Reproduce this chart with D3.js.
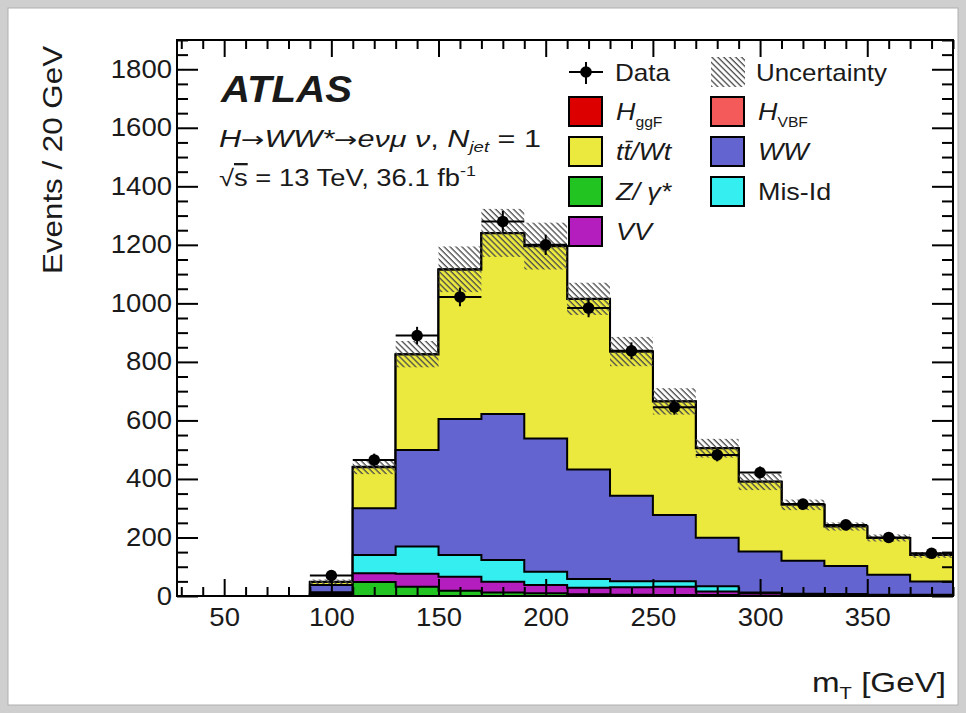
<!DOCTYPE html>
<html><head><meta charset="utf-8">
<script src="https://cdn.jsdelivr.net/npm/d3@7"></script>
<style>
body{margin:0;background:#fff}
svg{display:block}
text{font-family:"Liberation Sans",Arial,Helvetica,sans-serif;fill:#1a1a1a}
</style>
</head><body>
<svg id="chart" width="966" height="713"></svg>
<script>
// ---- data (20 GeV bins, lower edges) ----
const binWidth = 20;
const binLow = [90,110,130,150,170,190,210,230,250,270,290,310,330,350,370];
const dataValues = [70,465,890,1022,1280,1200,984,838,645,482,422,314,243,200,146];
const zGammaValues = [3,48,32,18,12,9,6,4,3,3,1,0.5,0.5,0.3,0.3];
const vvValues     = [5,30,44,48,37,29,22,26,29,12,8,5,4,3,3];
const misIdValues  = [5,62,93,74,74,45,30,20,18,18,3,2,2,1,1];
const wwValues     = [25,160,330,465,499,455,374,293,227,166,140,113,96,68,45];
const topValues    = [10,140,326,510,618,657,583,492,388,306,238,191,135,126,91];
const hVbfValues   = [0,0.5,0.5,0.5,0.3,0.2,0.2,0.1,0,0,0,0,0,0,0];
const hGgfValues   = [0.5,1,1,1,0.5,0.5,0.3,0.2,0,0,0,0,0,0,0];
const uncertaintyValues = [8,25,45,78,82,80,55,50,45,32,28,18,14,12,10];
const xTicksMajor = [50,100,150,200,250,300,350];
const yTicksMajor = [0,200,400,600,800,1000,1200,1400,1600,1800];

const seriesNames  = ["Z/γ*","VV","Mis-Id","WW","tt/Wt","H_VBF","H_ggF"];
const seriesValues = [zGammaValues,vvValues,misIdValues,wwValues,topValues,hVbfValues,hGgfValues];
const seriesColors = ["#22c422","#b41ebe","#35eef0","#6464d0","#ebe83e","#f55a5a","#dc0000"];

// helpers to match the wider text of the original
function fitLen(sel, len){ sel.attr("textLength", len).attr("lengthAdjust","spacingAndGlyphs"); }
function widen(sel, f){
  sel.each(function(){ const l = this.getComputedTextLength();
    d3.select(this).attr("textLength", l*f).attr("lengthAdjust","spacingAndGlyphs"); });
}

// ---- layout ----
const svg = d3.select("#chart");
const L = 177, R = 953, T = 40, B = 596;
const x = d3.scaleLinear().domain([28, 390]).range([L, R]);
const y = d3.scaleLinear().domain([0, 1900]).range([B, T]);

// page background / border
svg.append("rect").attr("width",966).attr("height",713).attr("fill","#cfcfcf");
svg.append("rect").attr("x",8).attr("y",8).attr("width",950).attr("height",697)
  .attr("fill","#fff").attr("stroke","#b0b0b0").attr("stroke-width",1);

// hatch pattern
const defs = svg.append("defs");
const pat = defs.append("pattern").attr("id","hatch").attr("patternUnits","userSpaceOnUse")
  .attr("width",4.2).attr("height",4.2).attr("patternTransform","rotate(-45)");
pat.append("line").attr("x1",1).attr("y1",0).attr("x2",1).attr("y2",4.2)
  .attr("stroke","#4a4a4a").attr("stroke-width",1.3);
defs.append("clipPath").attr("id","plotclip").append("rect")
  .attr("x",L).attr("y",T).attr("width",R-L).attr("height",B-T);

const plot = svg.append("g").attr("clip-path","url(#plotclip)");

// cumulative stacks
const nBins = binLow.length;
const cumul = [];
let running = new Array(nBins).fill(0);
seriesValues.forEach((vals) => {
  running = running.map((r,i) => r + vals[i]);
  cumul.push(running.slice());
});
const total = cumul[cumul.length-1];

const line = d3.line().x(d => x(d[0])).y(d => y(d[1]));
function stepPoints(vals){
  const pts = [[binLow[0],0]];
  vals.forEach((v,i) => { pts.push([binLow[i],v]); pts.push([binLow[i]+binWidth,v]); });
  pts.push([binLow[nBins-1]+binWidth,0]);
  return pts;
}
for (let s = cumul.length-1; s >= 0; s--) {
  plot.append("path").attr("d", line(stepPoints(cumul[s])) + "Z")
    .attr("fill", seriesColors[s]).attr("stroke","#000").attr("stroke-width",2)
    .attr("stroke-linejoin","miter");
}

// uncertainty band
plot.selectAll("rect.unc").data(binLow).join("rect").attr("class","unc")
  .attr("x", d => x(d)).attr("width", d => x(d+binWidth)-x(d))
  .attr("y", (d,i) => y(total[i]+uncertaintyValues[i]))
  .attr("height", (d,i) => y(total[i]-uncertaintyValues[i]) - y(total[i]+uncertaintyValues[i]))
  .attr("fill","url(#hatch)");

// data points
const dg = plot.append("g");
binLow.forEach((lo,i) => {
  const v = dataValues[i], e = Math.sqrt(v), cx = x(lo+binWidth/2);
  dg.append("line").attr("x1",x(lo)).attr("x2",x(lo+binWidth)).attr("y1",y(v)).attr("y2",y(v))
    .attr("stroke","#000").attr("stroke-width",2);
  dg.append("line").attr("x1",cx).attr("x2",cx).attr("y1",y(v-e)).attr("y2",y(v+e))
    .attr("stroke","#000").attr("stroke-width",2);
  dg.append("circle").attr("cx",cx).attr("cy",y(v)).attr("r",5.8).attr("fill","#000");
});

// ---- axes ----
const xMinor = d3.range(30, 391, 10).filter(v => v % 50 !== 0);
const yMinor = d3.range(0, 1901, 50).filter(v => v % 200 !== 0);
function styleAxis(g){ g.select(".domain").remove(); g.selectAll("line").attr("stroke","#000").attr("stroke-width",2); }
function styleLabels(g){
  g.selectAll("text").attr("font-size",25).attr("font-family","Liberation Sans, Arial, sans-serif").attr("fill","#1a1a1a");
  widen(g.selectAll("text"), 1.1);
}

svg.append("g").attr("transform",`translate(0,${B})`)
  .call(d3.axisBottom(x).tickValues(xTicksMajor).tickSize(-17).tickPadding(12).tickFormat(d3.format("d")))
  .call(styleAxis).call(styleLabels);
svg.append("g").attr("transform",`translate(0,${B})`)
  .call(d3.axisBottom(x).tickValues(xMinor).tickSize(-9).tickFormat(""))
  .call(styleAxis);
svg.append("g").attr("transform",`translate(0,${T})`)
  .call(d3.axisTop(x).tickValues(xTicksMajor).tickSize(-17).tickFormat(""))
  .call(styleAxis);
svg.append("g").attr("transform",`translate(0,${T})`)
  .call(d3.axisTop(x).tickValues(xMinor).tickSize(-9).tickFormat(""))
  .call(styleAxis);

svg.append("g").attr("transform",`translate(${L},0)`)
  .call(d3.axisLeft(y).tickValues(yTicksMajor).tickSize(-21).tickPadding(5).tickFormat(d3.format("d")))
  .call(styleAxis).call(styleLabels);
svg.append("g").attr("transform",`translate(${L},0)`)
  .call(d3.axisLeft(y).tickValues(yMinor).tickSize(-11).tickFormat(""))
  .call(styleAxis);
svg.append("g").attr("transform",`translate(${R},0)`)
  .call(d3.axisRight(y).tickValues(yTicksMajor).tickSize(-21).tickFormat(""))
  .call(styleAxis);
svg.append("g").attr("transform",`translate(${R},0)`)
  .call(d3.axisRight(y).tickValues(yMinor).tickSize(-11).tickFormat(""))
  .call(styleAxis);

// frame
svg.append("rect").attr("x",L).attr("y",T).attr("width",R-L).attr("height",B-T)
  .attr("fill","none").attr("stroke","#000").attr("stroke-width",2);

// axis titles
const yt = svg.append("text").attr("transform","translate(62,46) rotate(-90)").attr("text-anchor","end")
  .attr("font-size",28).text("Events / 20 GeV");
fitLen(yt, 228);
const xt = svg.append("text").attr("x",946).attr("y",692).attr("text-anchor","end").attr("font-size",28);
xt.append("tspan").text("m");
xt.append("tspan").attr("font-size",17).attr("dy",7).text("T");
xt.append("tspan").attr("dy",-7).text(" [GeV]");
fitLen(xt, 134);

// ATLAS labels
const at = svg.append("text").attr("x",221).attr("y",102).attr("font-size",37).attr("font-weight","bold")
  .attr("font-style","italic").text("ATLAS");
fitLen(at, 131);
const p1 = svg.append("text").attr("x",219).attr("y",147).attr("font-size",23);
p1.append("tspan").attr("font-style","italic").text("H");
p1.append("tspan").attr("font-family","DejaVu Sans").attr("font-size",21).text("→");
p1.append("tspan").attr("font-style","italic").text("WW*");
p1.append("tspan").attr("font-family","DejaVu Sans").attr("font-size",21).text("→");
p1.append("tspan").attr("font-style","italic").text("eνμ ν");
p1.append("tspan").text(", ");
p1.append("tspan").attr("font-style","italic").text("N");
p1.append("tspan").attr("font-size",14).attr("dy",5).attr("font-style","italic").text("jet");
p1.append("tspan").attr("dy",-5).text(" = 1");
fitLen(p1, 322);
const p2 = svg.append("text").attr("x",219).attr("y",186).attr("font-size",23);
p2.append("tspan").text("√");
p2.append("tspan").attr("style","text-decoration:overline").text("s");
p2.append("tspan").text(" = 13 TeV, 36.1 fb");
p2.append("tspan").attr("font-size",15).attr("dy",-10).text("-1");
fitLen(p2, 257);

// ---- legend ----
const lg = svg.append("g");
// Data entry
lg.append("line").attr("x1",569).attr("x2",603).attr("y1",72).attr("y2",72).attr("stroke","#000").attr("stroke-width",2);
lg.append("line").attr("x1",586).attr("x2",586).attr("y1",62).attr("y2",84).attr("stroke","#000").attr("stroke-width",2);
lg.append("circle").attr("cx",586).attr("cy",72).attr("r",5.8).attr("fill","#000");
fitLen(lg.append("text").attr("x",615).attr("y",81).attr("font-size",24).text("Data"), 55);
lg.append("rect").attr("x",711).attr("y",57).attr("width",34).attr("height",30).attr("fill","url(#hatch)");
fitLen(lg.append("text").attr("x",756).attr("y",81).attr("font-size",24).text("Uncertainty"), 131);

const legendItems = [
  {s:6, col:0, row:0, main:"H", sub:"ggF"},
  {s:5, col:1, row:0, main:"H", sub:"VBF"},
  {s:4, col:0, row:1, main:"tt̄/Wt"},
  {s:3, col:1, row:1, main:"WW"},
  {s:0, col:0, row:2, main:"Z/ γ*"},
  {s:2, col:1, row:2, main:"Mis-Id", upright:true},
  {s:1, col:0, row:3, main:"VV"}
];
legendItems.forEach(it => {
  const bx = it.col === 0 ? 569 : 711;
  const by = 97 + it.row * 40;
  lg.append("rect").attr("x",bx).attr("y",by).attr("width",33).attr("height",29)
    .attr("fill",seriesColors[it.s]).attr("stroke","#000").attr("stroke-width",2);
  const t = lg.append("text").attr("x",bx+47).attr("y",by+23).attr("font-size",24);
  t.append("tspan").attr("font-style",it.upright ? "normal" : "italic").text(it.main);
  if (it.sub) t.append("tspan").attr("font-size",14).attr("dy",7).text(it.sub);
  widen(t, 1.12);
});
</script>
</body></html>
